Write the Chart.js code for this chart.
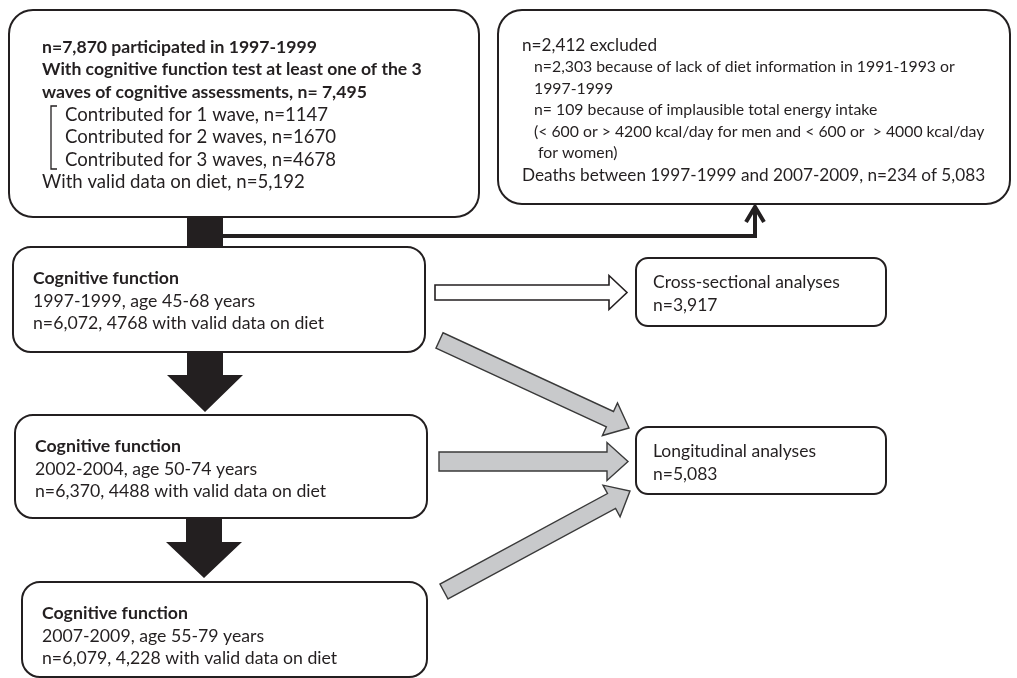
<!DOCTYPE html>
<html lang="en">
<head>
<meta charset="UTF-8">
<title>Flow chart of participants</title>
<script src="https://cdn.jsdelivr.net/npm/chart.js"></script>
<style>
  html, body { margin: 0; padding: 0; background: #fff; }
  #flow { display: block; }
</style>
</head>
<body>
<canvas id="flow" width="1017" height="678"></canvas>
<script>
// ---- text content of the boxes ----
const startLines = [
  'n=7,870 participated in 1997-1999',
  'With cognitive function test at least one of the 3',
  'waves of cognitive assessments, n= 7,495'
];
const waveLines = [
  'Contributed for 1 wave, n=1147',
  'Contributed for 2 waves, n=1670',
  'Contributed for 3 waves, n=4678'
];
const dietLine = 'With valid data on diet, n=5,192';

const excludedHead = 'n=2,412 excluded';
const excludedLines = [
  'n=2,303 because of lack of diet information in 1991-1993 or',
  '1997-1999',
  'n= 109 because of implausible total energy intake',
  '(< 600 or > 4200 kcal/day for men and < 600 or  > 4000 kcal/day',
  ' for women)'
];
const deathsLine = 'Deaths between 1997-1999 and 2007-2009, n=234 of 5,083';

const waveTitle = 'Cognitive function';
const wavePeriods = ['1997-1999, age 45-68 years', '2002-2004, age 50-74 years', '2007-2009, age 55-79 years'];
const waveCounts = ['n=6,072, 4768 with valid data on diet', 'n=6,370, 4488 with valid data on diet', 'n=6,079, 4,228 with valid data on diet'];

const analysisNames = ['Cross-sectional analyses', 'Longitudinal analyses'];
const analysisCounts = ['n=3,917', 'n=5,083'];

// ---- layout (in scale units = picture pixels) ----
const boxStart = { x0: 9, y0: 10, x1: 479, y1: 217, r: 24 };
const boxExcl = { x0: 498, y0: 10, x1: 1010, y1: 204, r: 24 };
const waveBoxes = [
  { x0: 13, y0: 247, x1: 425, y1: 352, r: 18 },
  { x0: 15, y0: 415, x1: 427, y1: 518, r: 18 },
  { x0: 22, y0: 582, x1: 427, y1: 677, r: 18 }
];
const analysisBoxes = [
  { x0: 636, y0: 258, x1: 886, y1: 326, r: 12 },
  { x0: 636, y0: 427, x1: 886, y1: 494, r: 12 }
];

const FONT = 'Lato, "Open Sans", sans-serif';
const INK = '#231f20';
const GREY = '#c8c9cb';

const flowPlugin = {
  id: 'flow',
  afterDraw(chart) {
    const ctx = chart.ctx;
    const xs = chart.scales.x, ys = chart.scales.y;
    const px = v => xs.getPixelForValue(v);
    const py = v => ys.getPixelForValue(v);

    function rbox(b) {
      const x0 = px(b.x0), y0 = py(b.y0), x1 = px(b.x1), y1 = py(b.y1), r = b.r;
      ctx.beginPath();
      ctx.moveTo(x0 + r, y0);
      ctx.arcTo(x1, y0, x1, y1, r);
      ctx.arcTo(x1, y1, x0, y1, r);
      ctx.arcTo(x0, y1, x0, y0, r);
      ctx.arcTo(x0, y0, x1, y0, r);
      ctx.closePath();
      ctx.fillStyle = '#fff';
      ctx.fill();
      ctx.lineWidth = 2;
      ctx.strokeStyle = INK;
      ctx.stroke();
    }

    function text(str, x, y, size, bold) {
      ctx.font = (bold ? 'bold ' : '') + size + 'px ' + FONT;
      ctx.fillStyle = INK;
      ctx.textAlign = 'left';
      ctx.textBaseline = 'middle';
      ctx.fillText(str, px(x), py(y));
    }

    // block arrow from tail to tip
    function blockArrow(tx, ty, hx, hy, shaft, head, headLen, fill, stroke, lw) {
      const X0 = px(tx), Y0 = py(ty), X1 = px(hx), Y1 = py(hy);
      const dx = X1 - X0, dy = Y1 - Y0, L = Math.hypot(dx, dy);
      const ux = dx / L, uy = dy / L, nx = -uy, ny = ux;
      const bx = X1 - ux * headLen, by = Y1 - uy * headLen;
      const pts = [
        [X0 + nx * shaft, Y0 + ny * shaft],
        [bx + nx * shaft, by + ny * shaft],
        [bx + nx * head, by + ny * head],
        [X1, Y1],
        [bx - nx * head, by - ny * head],
        [bx - nx * shaft, by - ny * shaft],
        [X0 - nx * shaft, Y0 - ny * shaft]
      ];
      ctx.beginPath();
      pts.forEach((p, i) => i ? ctx.lineTo(p[0], p[1]) : ctx.moveTo(p[0], p[1]));
      ctx.closePath();
      ctx.fillStyle = fill;
      ctx.fill();
      if (stroke) {
        ctx.lineWidth = lw;
        ctx.strokeStyle = stroke;
        ctx.lineJoin = 'miter';
        ctx.stroke();
      }
    }

    ctx.save();

    // black connectors down the left column
    ctx.fillStyle = INK;
    ctx.fillRect(px(187), py(217), px(223) - px(187), py(247) - py(217));
    blockArrow(205, 352, 205, 412, 18, 38, 37, INK);
    blockArrow(204, 518, 204, 578, 18, 38, 36, INK);

    // line to the exclusions box
    ctx.beginPath();
    ctx.moveTo(px(223), py(236));
    ctx.lineTo(px(755), py(236));
    ctx.lineTo(px(755), py(208));
    ctx.lineWidth = 4;
    ctx.strokeStyle = INK;
    ctx.lineJoin = 'miter';
    ctx.stroke();
    ctx.beginPath();
    ctx.moveTo(px(746), py(222));
    ctx.lineTo(px(755), py(207));
    ctx.lineTo(px(764), py(222));
    ctx.stroke();

    // boxes
    rbox(boxStart);
    rbox(boxExcl);
    waveBoxes.forEach(rbox);
    analysisBoxes.forEach(rbox);

    // arrows to the analyses
    blockArrow(435, 292.5, 627, 292.5, 7.5, 17, 18, '#fff', INK, 1.6);
    blockArrow(439.5, 340.5, 629, 428, 8.5, 18, 21, GREY, '#3a3a3a', 1.4);
    blockArrow(439, 461.5, 628, 461.5, 9.5, 19, 21, GREY, '#3a3a3a', 1.4);
    blockArrow(444, 591.5, 630, 491, 8.5, 18, 21, GREY, '#3a3a3a', 1.4);

    // start box text
    startLines.forEach((s, i) => text(s, 42, 47 + i * 22.5, 17.6, true));
    waveLines.forEach((s, i) => text(s, 65, 114.5 + i * 22.5, 18.6, false));
    text(dietLine, 42, 182, 18.6, false);
    // bracket
    ctx.beginPath();
    ctx.moveTo(px(57), py(106));
    ctx.lineTo(px(51), py(106));
    ctx.lineTo(px(51), py(169));
    ctx.lineTo(px(57), py(169));
    ctx.lineWidth = 1.3;
    ctx.strokeStyle = INK;
    ctx.stroke();

    // exclusion box text
    text(excludedHead, 522, 45, 17.2, false);
    excludedLines.forEach((s, i) => text(s, 534, 67 + i * 21.5, 15.8, false));
    text(deathsLine, 522, 175, 17.2, false);

    // wave boxes text
    waveBoxes.forEach((b, i) => {
      const tx = b.x0 + 20, ty = b.y0 + 31;
      text(waveTitle, tx, ty, 17.7, true);
      text(wavePeriods[i], tx, ty + 23, 17.7, false);
      text(waveCounts[i], tx, ty + 45, 17.7, false);
    });

    // analyses boxes text
    analysisBoxes.forEach((b, i) => {
      text(analysisNames[i], b.x0 + 17, b.y0 + 24, 17.5, false);
      text(analysisCounts[i], b.x0 + 17, b.y0 + 47, 17.5, false);
    });

    ctx.restore();
  }
};

new Chart(document.getElementById('flow'), {
  type: 'scatter',
  data: { datasets: [{ data: [], pointRadius: 0 }] },
  options: {
    responsive: false,
    animation: false,
    events: [],
    layout: { padding: 0 },
    plugins: { legend: { display: false }, tooltip: { enabled: false } },
    scales: {
      x: { type: 'linear', min: 0, max: 1017, display: false },
      y: { type: 'linear', min: 0, max: 678, reverse: true, display: false }
    }
  },
  plugins: [flowPlugin]
});
</script>
</body>
</html>
